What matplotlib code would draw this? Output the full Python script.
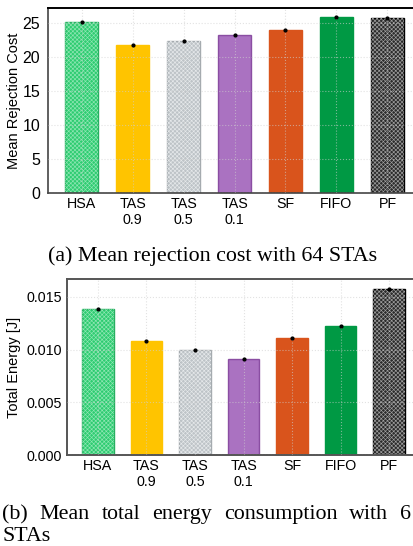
import matplotlib
matplotlib.use("Agg")
import matplotlib.pyplot as plt

plt.rcParams['font.family'] = ['Liberation Sans', 'DejaVu Sans']
plt.rcParams['hatch.linewidth'] = 0.45

labels = ["HSA", "TAS\n0.9", "TAS\n0.5", "TAS\n0.1", "SF", "FIFO", "PF"]
rejection_cost = [25.15, 21.8, 22.3, 23.2, 24.0, 25.9, 25.8]
rejection_err = [0.08, 0.08, 0.08, 0.08, 0.08, 0.08, 0.08]
total_energy = [0.0138, 0.01078, 0.00993, 0.00912, 0.01112, 0.01225, 0.01573]
energy_err = [0.00004, 0.00004, 0.00004, 0.00004, 0.00004, 0.00004, 0.00004]

faces = ['#2ecc71', '#ffc400', '#bdc3c7', '#9b59b6', '#d9541c', '#009944', '#2b2b2b']
edges = ['#27ae60', '#ffc400', '#a5abaf', '#7d3c98', '#d9541c', '#009944', '#000000']
hatches = ['xxxxxxxx', None, 'xxxxxxxx', None, None, None, 'xxxxxxxx']
hatch_cols = ['#8ee6b3', None, '#e6e9eb', None, None, None, '#a0a0a0']
alphas = [1, 1, 1, 0.85, 1, 1, 1]


def draw_bars(ax, vals, errs):
    x = range(len(vals))
    for i in x:
        ax.bar(i, vals[i], width=0.65, color=faces[i], edgecolor=edges[i],
               linewidth=1.0, alpha=alphas[i], zorder=2)
        if hatches[i]:
            ax.bar(i, vals[i], width=0.65, color='none', edgecolor=hatch_cols[i],
                   hatch=hatches[i], linewidth=0, zorder=2)
    ax.errorbar(list(x), vals, yerr=errs, fmt='.', color='k', markersize=4,
                elinewidth=0.8, capsize=0, zorder=5)
    ax.grid(True, color='#cfcfcf', linestyle=':', linewidth=0.8, alpha=0.6, zorder=4)
    ax.set_axisbelow(False)
    ax.set_xticks(list(x))
    ax.set_xticklabels(labels, linespacing=1.15)
    ax.tick_params(length=0, labelsize=10.3, pad=3)
    ax.spines['right'].set_visible(False)


fig = plt.figure(figsize=(4.13, 5.46), dpi=100)

ax1 = fig.add_axes([48 / 413, 1 - 193 / 546, 373 / 413, 185 / 546])
draw_bars(ax1, rejection_cost, rejection_err)
ax1.set_xlim(-0.657, 6.657)
ax1.set_ylim(0, 27.2)
ax1.set_yticks([0, 5, 10, 15, 20, 25])
ax1.tick_params(axis='y', pad=5.5, labelsize=11.5)
ax1.spines['top'].set_color('black')
ax1.spines['top'].set_linewidth(1.4)
for s in ['left', 'bottom']:
    ax1.spines[s].set_color('#444444')
    ax1.spines[s].set_linewidth(1.2)
ax1.set_ylabel("Mean Rejection Cost", fontsize=10.5)

ax2 = fig.add_axes([66.7 / 413, 1 - 455.3 / 546, 353.6 / 413, 176 / 546])
draw_bars(ax2, total_energy, energy_err)
ax2.set_xlim(-0.645, 6.645)
ax2.set_ylim(0, 0.01664)
ax2.set_yticks([0, 0.005, 0.01, 0.015])
ax2.set_yticklabels(["0.000", "0.005", "0.010", "0.015"])
ax2.tick_params(axis='y', pad=3.5)
for s in ['left', 'bottom', 'top']:
    ax2.spines[s].set_color('#555555')
    ax2.spines[s].set_linewidth(1.4)
ax2.set_ylabel("Total Energy [J]", fontsize=10.5)

# put both y labels at the same figure x
for ax in (ax1, ax2):
    bb = ax.get_position()
    ax.yaxis.set_label_coords((21 / 413 - bb.x0) / bb.width, 0.5)

serif = ['Liberation Serif', 'DejaVu Serif']
cap_size = 15.8
fig.text(212.5 / 413, 1 - 261 / 546, "(a) Mean rejection cost with 64 STAs",
         family=serif, fontsize=cap_size, ha='center', va='baseline')

# justified caption line for (b)
words = ["(b)", "Mean", "total", "energy", "consumption", "with", "6"]
texts = [fig.text(0, 1 - 519 / 546, w, family=serif, fontsize=cap_size, va='baseline')
         for w in words]
fig.canvas.draw()
r = fig.canvas.get_renderer()
widths = [t.get_window_extent(r).width for t in texts]
left, right = 2.0, 411.0
gap = (right - left - sum(widths)) / (len(words) - 1)
xpos = left
for t, w in zip(texts, widths):
    t.set_x(xpos / 413)
    xpos += w + gap
fig.text(2 / 413, 1 - 541 / 546, "STAs", family=serif, fontsize=cap_size, va='baseline')

fig.savefig("out.png", dpi=100)
